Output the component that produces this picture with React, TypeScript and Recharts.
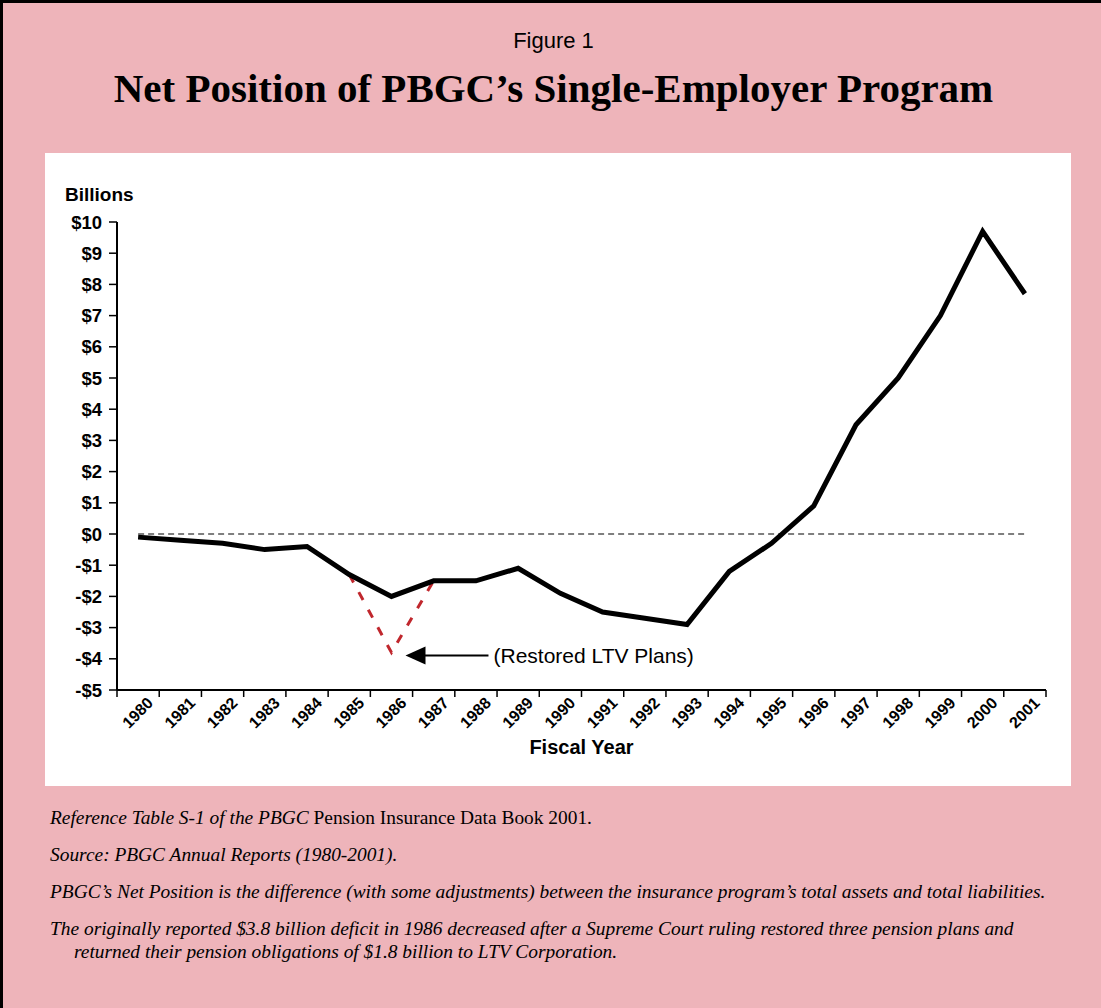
import React from 'react';
import { LineChart, Line, XAxis, YAxis, ReferenceLine, ReferenceDot } from 'recharts';

const years = ['1980','1981','1982','1983','1984','1985','1986','1987','1988','1989','1990','1991','1992','1993','1994','1995','1996','1997','1998','1999','2000','2001'];
const netPosition = [-0.1,-0.2,-0.3,-0.5,-0.4,-1.3,-2.0,-1.5,-1.5,-1.1,-1.9,-2.5,-2.7,-2.9,-1.2,-0.3,0.9,3.5,5.0,7.0,9.7,7.7];
const restoredYears = ['1985','1986','1987'];
const restoredValues = [-1.3,-3.8,-1.5];
const yTicks = [-5,-4,-3,-2,-1,0,1,2,3,4,5,6,7,8,9,10];
const annotationText = '(Restored LTV Plans)';

const data = years.map((y, i) => {
  const r = restoredYears.indexOf(y);
  return { year: y, net: netPosition[i], restored: r >= 0 ? restoredValues[r] : null };
});

const PINK = '#EEB4BA';
const SANS = 'Arial, "Liberation Sans", Helvetica, sans-serif';
const SERIF = '"Times New Roman", "Liberation Serif", Times, serif';

const fmtY = (v: number) => (v < 0 ? `-$${-v}` : `$${v}`);

const XTick = (props: any) => {
  const { x, y, payload, index, visibleTicksCount } = props;
  const off = payload && typeof payload.offset === 'number' ? payload.offset : 0;
  const ax = x + 16;
  const ay = y + 14;
  return (
    <g>
      <line x1={x - off} y1={y} x2={x - off} y2={y + 7} stroke="#000" strokeWidth={1.5} />
      {index === visibleTicksCount - 1 && (
        <line x1={x + off} y1={y} x2={x + off} y2={y + 7} stroke="#000" strokeWidth={1.5} />
      )}
      <text
        x={ax}
        y={ay}
        textAnchor="end"
        transform={`rotate(-45, ${ax}, ${ay})`}
        fontFamily={SANS}
        fontWeight="bold"
        fontSize={16}
        fill="#000"
      >
        {payload.value}
      </text>
    </g>
  );
};

const ArrowShape = (props: any) => {
  const { cx, cy } = props;
  const tipX = cx + 14;
  const ty = cy + 3;
  return (
    <g>
      <polygon points={`${tipX},${ty} ${tipX + 20},${ty - 9} ${tipX + 20},${ty + 9}`} fill="#000" />
      <line x1={tipX + 18} y1={ty} x2={tipX + 83} y2={ty} stroke="#000" strokeWidth={2} />
      <text x={tipX + 88} y={ty + 7.5} fontFamily={SANS} fontSize={21} fill="#000">
        {annotationText}
      </text>
    </g>
  );
};

export default function App() {
  return (
    <div
      style={{
        position: 'absolute',
        left: 0,
        top: 0,
        width: 1101,
        height: 1008,
        background: PINK,
        borderTop: '3px solid #000',
        borderLeft: '3px solid #000',
        boxSizing: 'border-box',
        overflow: 'hidden',
      }}
    >
      <div
        style={{
          position: 'absolute',
          left: 0,
          top: 25,
          width: 1101,
          textAlign: 'center',
          fontFamily: SANS,
          fontSize: 22,
          color: '#000',
          lineHeight: '26px',
        }}
      >
        Figure 1
      </div>
      <div
        style={{
          position: 'absolute',
          left: 0,
          top: 62,
          width: 1101,
          textAlign: 'center',
          fontFamily: SERIF,
          fontWeight: 'bold',
          fontSize: 41,
          color: '#000',
          lineHeight: '46px',
        }}
      >
        Net Position of PBGC’s Single-Employer Program
      </div>

      <div
        style={{
          position: 'absolute',
          left: 42,
          top: 150,
          width: 1026,
          height: 633,
          background: '#fff',
        }}
      >
        <div
          style={{
            position: 'absolute',
            left: 20,
            top: 31,
            fontFamily: SANS,
            fontWeight: 'bold',
            fontSize: 19,
            color: '#000',
          }}
        >
          Billions
        </div>
        <LineChart
          width={1026}
          height={633}
          data={data}
          margin={{ top: 69, right: 25, bottom: 0, left: 0 }}
        >
          <XAxis
            dataKey="year"
            xAxisId="bottom"
            scale="band"
            interval={0}
            tickLine={false}
            tickSize={0}
            tickMargin={0}
            height={96}
            axisLine={{ stroke: '#000', strokeWidth: 2 }}
            tick={<XTick />}
            label={{
              value: 'Fiscal Year',
              position: 'insideBottom',
              offset: 32,
              style: { fontFamily: SANS, fontWeight: 'bold', fontSize: 20, fill: '#000' },
            }}
          />
          <XAxis
            dataKey="year"
            xAxisId="top"
            scale="band"
            orientation="top"
            height={0}
            tick={false}
            tickLine={false}
            axisLine={{ stroke: '#000', strokeWidth: 2 }}
          />
          <YAxis
            yAxisId="left"
            domain={[-5, 10]}
            ticks={yTicks}
            interval={0}
            width={72}
            tickSize={8}
            tickMargin={7}
            tickFormatter={fmtY}
            tickLine={{ stroke: '#000', strokeWidth: 1.5 }}
            axisLine={{ stroke: '#000', strokeWidth: 2 }}
            tick={{ fontFamily: SANS, fontWeight: 'bold', fontSize: 18.5, fill: '#000' }}
            allowDataOverflow
          />
          <YAxis
            yAxisId="right"
            orientation="right"
            domain={[-5, 10]}
            width={0}
            tick={false}
            tickLine={false}
            axisLine={{ stroke: '#000', strokeWidth: 2 }}
          />
          <ReferenceLine
            xAxisId="bottom"
            yAxisId="left"
            segment={[{ x: years[0], y: 0 }, { x: years[years.length - 1], y: 0 }]}
            stroke="#000"
            strokeWidth={1.2}
            strokeDasharray="6 4"
          />
          <Line
            xAxisId="bottom"
            yAxisId="left"
            type="linear"
            dataKey="restored"
            stroke="#C0272D"
            strokeWidth={3}
            strokeDasharray="9 11"
            dot={false}
            isAnimationActive={false}
            connectNulls={false}
          />
          <Line
            xAxisId="bottom"
            yAxisId="left"
            type="linear"
            dataKey="net"
            stroke="#000"
            strokeWidth={5}
            dot={false}
            isAnimationActive={false}
          />
          <ReferenceDot
            xAxisId="bottom"
            yAxisId="left"
            x="1986"
            y={-3.8}
            r={0}
            shape={<ArrowShape />}
          />
        </LineChart>
      </div>

      <div
        style={{
          position: 'absolute',
          left: 47,
          top: 803,
          width: 1040,
          fontFamily: SERIF,
          fontSize: 19.4,
          color: '#000',
          lineHeight: '23px',
        }}
      >
        <div style={{ position: 'absolute', top: 0, left: 0, whiteSpace: 'nowrap' }}>
          <i>Reference Table S-1 of the PBGC</i> Pension Insurance Data Book 2001.
        </div>
        <div style={{ position: 'absolute', top: 37, left: 0, whiteSpace: 'nowrap' }}>
          <i>Source: PBGC Annual Reports (1980-2001).</i>
        </div>
        <div style={{ position: 'absolute', top: 74, left: 0, whiteSpace: 'nowrap' }}>
          <i>PBGC’s Net Position is the difference (with some adjustments) between the insurance program’s total assets and total liabilities.</i>
        </div>
        <div style={{ position: 'absolute', top: 111, left: 0, whiteSpace: 'nowrap' }}>
          <i>The originally reported $3.8 billion deficit in 1986 decreased after a Supreme Court ruling restored three pension plans and</i>
        </div>
        <div style={{ position: 'absolute', top: 134, left: 24, whiteSpace: 'nowrap' }}>
          <i>returned their pension obligations of $1.8 billion to LTV Corporation.</i>
        </div>
      </div>
    </div>
  );
}
